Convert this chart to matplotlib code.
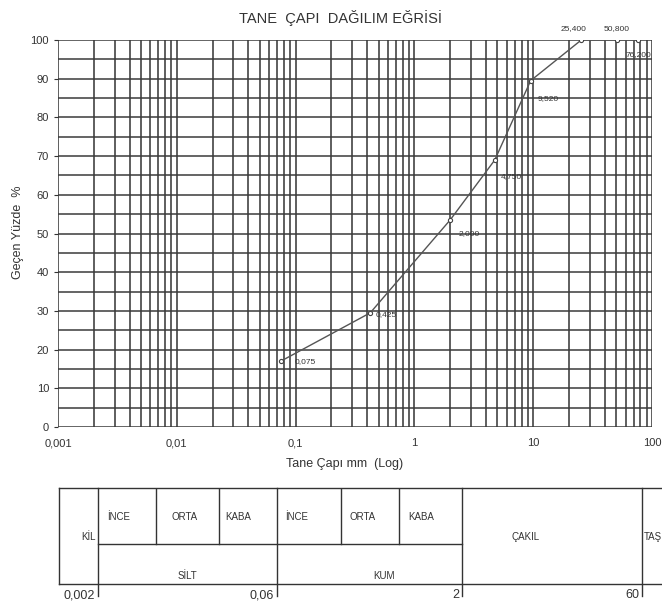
import numpy as np
import matplotlib.pyplot as plt

plt.rcParams['font.family'] = ['Liberation Sans', 'DejaVu Sans']

# elek acikligi (mm) - gecen yuzde
elek = [0.075, 0.425, 2.0, 4.75, 9.52, 25.4, 50.8, 76.2]
gecen = [17, 29.5, 53.5, 69, 89.5, 100, 100, 100]
etiket = ['0,075', '0,425', '2,000', '4,750', '9,520', '25,400', '50,800', '76,200']

xticks = [0.001, 0.01, 0.1, 1, 10, 100]
xtick_labels = ['0,001', '0,01', '0,1', '1', '10', '100']
yticks = list(range(0, 101, 10))

# alt tablo: sinirlar (mm)
sinir = [0.002, 0.06, 2, 60]
sinir_etiket = ['0,002', '0,06', '2', '60']
ara_sinir = [0.006, 0.02, 0.2, 0.6]
hucre_sol = [0.002, 0.006, 0.02, 0.06, 0.2, 0.6]
hucre_ad = ['İNCE', 'ORTA', 'KABA', 'İNCE', 'ORTA', 'KABA']

fig = plt.figure(figsize=(6.62, 6.08), dpi=100)
W, H = 662, 608

ax = fig.add_axes([58 / W, 1 - 427 / H, (652 - 58) / W, (427 - 40) / H])
ax.set_xscale('log')
ax.set_xlim(0.001, 100)
ax.set_ylim(0, 100)

# grid
for d in [0.001, 0.01, 0.1, 1, 10]:
    for k in range(1, 10):
        ax.axvline(d * k, color='#333333', lw=1.1, zorder=1)
ax.axvline(100, color='#333333', lw=1.1, zorder=1)
for v in range(0, 101, 5):
    ax.axhline(v, color='#3a3a3a', lw=1.1, zorder=1)

ax.plot(elek, gecen, color='#555555', lw=1.0, marker='o', ms=3,
        mfc='white', mec='#444444', mew=0.8, zorder=3)

kayma = [(14, 0), (5, -2), (8, -14), (6, -17), (7, -18), (-8, 11), (0, 11), (0, -15)]
hizala = ['left', 'left', 'left', 'left', 'left', 'center', 'center', 'center']
for x, y, t, off, ha in zip(elek, gecen, etiket, kayma, hizala):
    ax.annotate(t, (x, y), xytext=off, textcoords='offset pixels',
                fontsize=6, ha=ha, va='center', color='#333333',
                annotation_clip=False, zorder=4)

ax.set_xticks(xticks)
ax.set_xticklabels(xtick_labels)
ax.xaxis.set_minor_locator(plt.NullLocator())
ax.set_yticks(yticks)
ax.tick_params(axis='both', labelsize=8, length=3, color='#333333', labelcolor='#333333')
ax.tick_params(axis='x', length=0, pad=8)
for s in ax.spines.values():
    s.set_visible(False)

fig.text(18 / W, 1 - 232 / H, 'Geçen Yüzde  %', fontsize=9, rotation=90,
         ha='center', va='center', color='#333333')
fig.text(345 / W, 1 - 464 / H, 'Tane Çapı mm  (Log)', fontsize=9, ha='center',
         va='center', color='#333333')
fig.text(340 / W, 1 - 18 / H, 'TANE  ÇAPI  DAĞILIM EĞRİSİ', fontsize=10.5,
         ha='center', va='center', color='#333333')

# tablo
tb = fig.add_axes([59 / W, 1 - 584 / H, (W - 59) / W, (584 - 488) / H])
tb.set_xscale('log')
tb.set_xlim(0.00096, 87.7)
tb.set_ylim(0, 1)
tb.set_xticks([])
tb.set_yticks([])
tb.xaxis.set_minor_locator(plt.NullLocator())
tb.spines['right'].set_visible(False)
for s in ['left', 'top', 'bottom']:
    tb.spines[s].set_color('#333333')
    tb.spines[s].set_linewidth(1.0)

bol = 0.42
for x in sinir:
    tb.plot([x, x], [-0.12, 1], color='#333333', lw=1.0, clip_on=False)
for x in ara_sinir:
    tb.plot([x, x], [bol, 1], color='#333333', lw=1.0)
tb.plot([sinir[0], sinir[2]], [bol, bol], color='#333333', lw=1.0)

pad = [9, 16, 6, 8, 9, 9]
for x, t, p in zip(hucre_sol, hucre_ad, pad):
    tb.annotate(t, (x, 0.70), xytext=(p, 0), textcoords='offset pixels',
                fontsize=7, ha='left', va='center', color='#333333')

tb.annotate('KİL', (sinir[0], 0.49), xytext=(-2, 0), textcoords='offset pixels',
            fontsize=7, ha='right', va='center', color='#333333')
tb.text(np.sqrt(sinir[0] * sinir[1]), 0.08, 'SİLT', fontsize=7, ha='center',
        va='center', color='#333333')
tb.text(np.sqrt(sinir[1] * sinir[2]) * 1.3, 0.08, 'KUM', fontsize=7, ha='center',
        va='center', color='#333333')
tb.text(np.sqrt(sinir[2] * sinir[3]) * 0.6, 0.49, 'ÇAKIL', fontsize=7, ha='center',
        va='center', color='#333333')
tb.annotate('TAŞ', (sinir[3], 0.49), xytext=(2, 0), textcoords='offset pixels',
            fontsize=7, ha='left', va='center', color='#333333')

for x, t in zip(sinir, sinir_etiket):
    tb.annotate(t, (x, 0), xytext=(-3, -11), textcoords='offset pixels',
                fontsize=9, ha='right', va='center', color='#333333',
                annotation_clip=False)

fig.savefig('out.png', dpi=100)
